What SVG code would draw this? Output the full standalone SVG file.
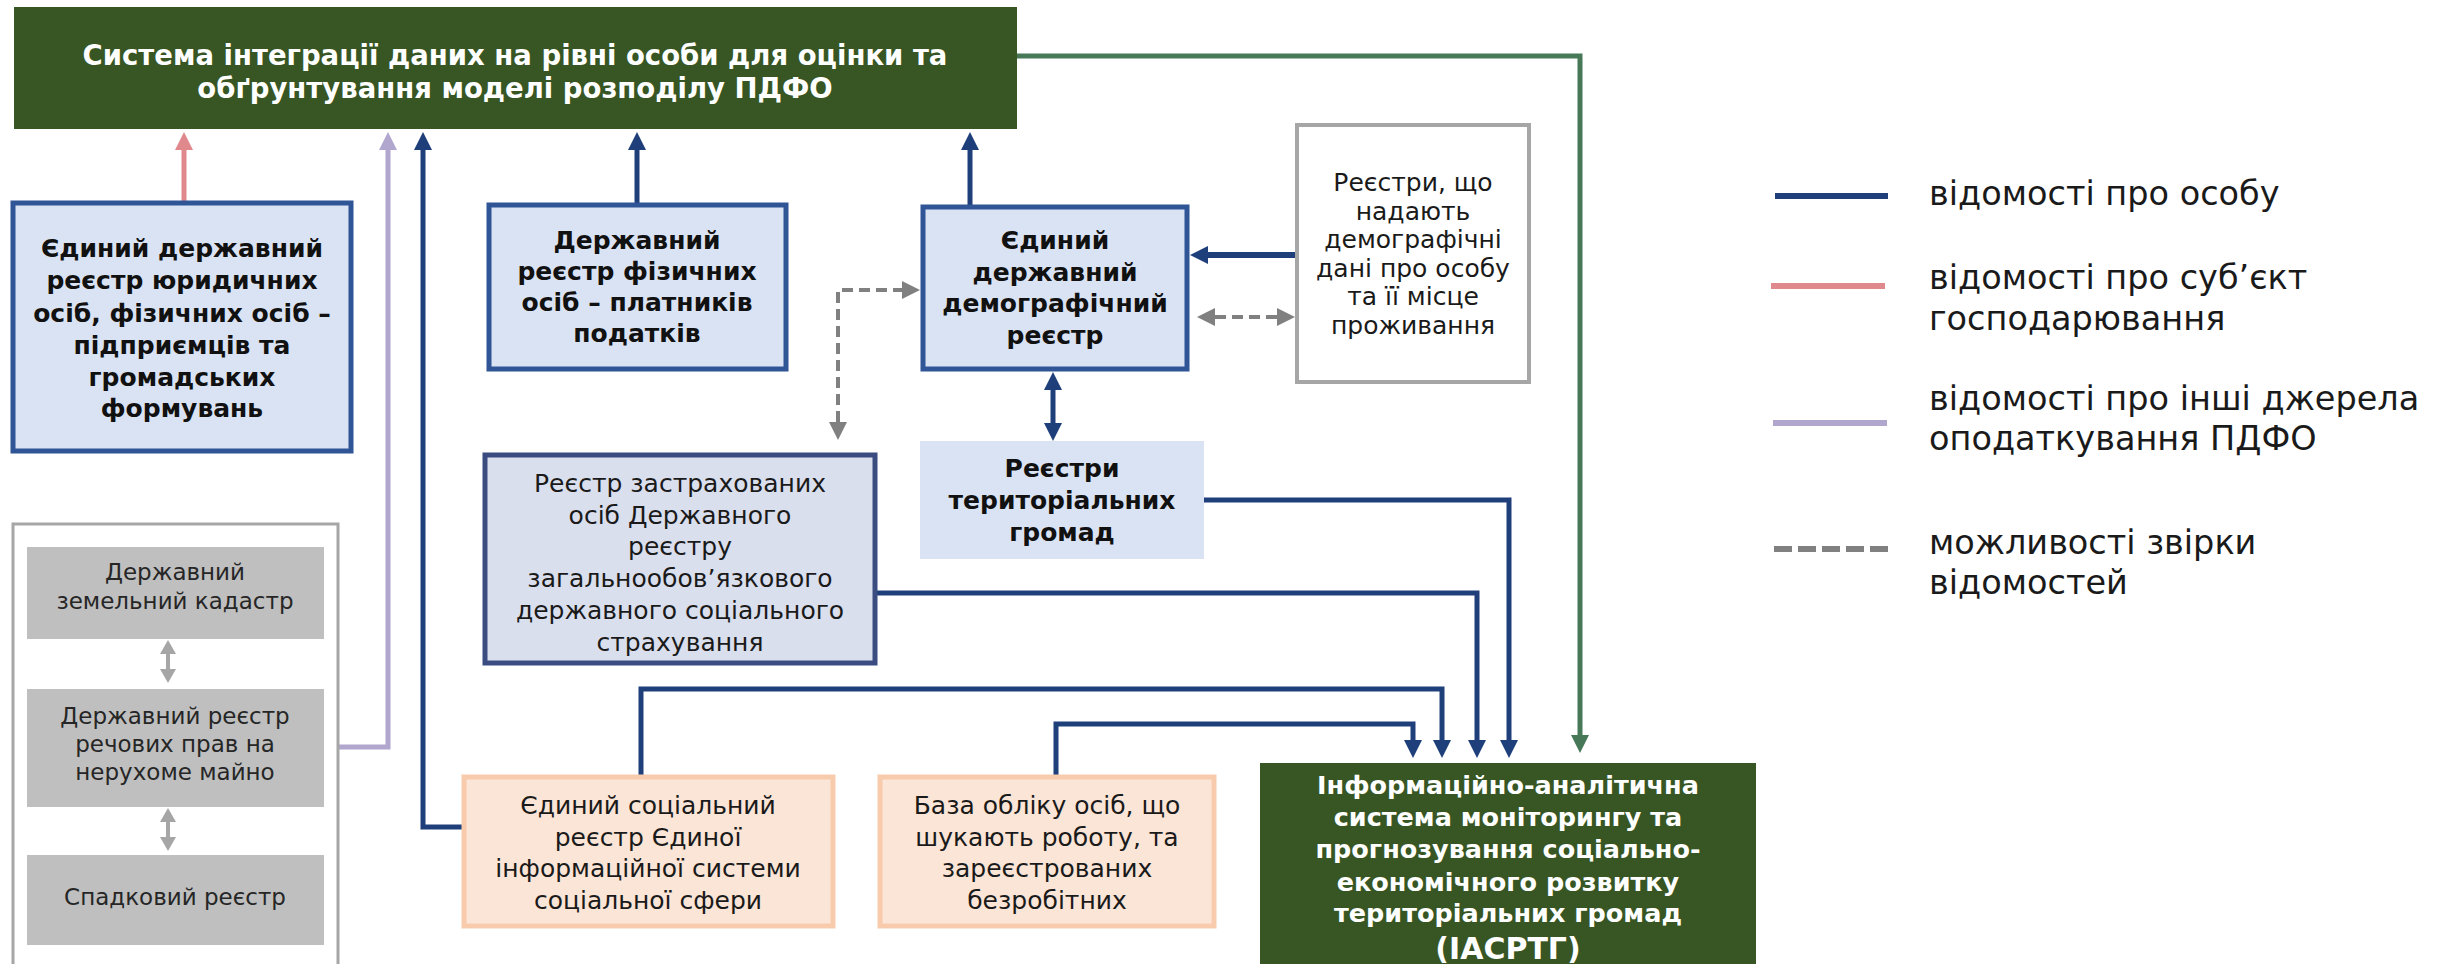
<svg xmlns="http://www.w3.org/2000/svg" width="2447" height="964" viewBox="0 0 2447 964">
<style>
text{font-family:"DejaVu Sans","Noto Sans",sans-serif;text-anchor:middle;dominant-baseline:central}
.b{font-weight:bold;fill:#111;font-size:25px}
.w{font-weight:bold;fill:#fff}
.r{fill:#1a1a1a;font-size:25px}
.g{fill:#262626;font-size:23px}
.lg{fill:#1a1a1a;font-size:33.5px;text-anchor:start}
.blue{fill:#DAE3F3;stroke:#2F5597;stroke-width:5}
.or{fill:#FBE5D6;stroke:#F8CBAD;stroke-width:5}
.c{fill:none;stroke-width:5}
.cb{stroke:#1F3F7A}
.cp{stroke:#E0898D}
.cl{stroke:#B1A6CE}
.cg{stroke:#477858}
.cd{stroke:#808080;stroke-width:4;stroke-dasharray:11 6}
</style>
<defs>
<marker id="mb" markerUnits="userSpaceOnUse" markerWidth="18" markerHeight="18" refX="0" refY="9" orient="auto-start-reverse" viewBox="0 0 18 18"><path d="M0,0L18,9L0,18z" fill="#1F3F7A"/></marker>
<marker id="mp" markerUnits="userSpaceOnUse" markerWidth="18" markerHeight="18" refX="0" refY="9" orient="auto" viewBox="0 0 18 18"><path d="M0,0L18,9L0,18z" fill="#E0898D"/></marker>
<marker id="ml" markerUnits="userSpaceOnUse" markerWidth="18" markerHeight="18" refX="0" refY="9" orient="auto" viewBox="0 0 18 18"><path d="M0,0L18,9L0,18z" fill="#B1A6CE"/></marker>
<marker id="mg" markerUnits="userSpaceOnUse" markerWidth="18" markerHeight="18" refX="0" refY="9" orient="auto" viewBox="0 0 18 18"><path d="M0,0L18,9L0,18z" fill="#477858"/></marker>
<marker id="md" markerUnits="userSpaceOnUse" markerWidth="18" markerHeight="18" refX="0" refY="9" orient="auto-start-reverse" viewBox="0 0 18 18"><path d="M0,0L18,9L0,18z" fill="#808080"/></marker>
<marker id="ms" markerUnits="userSpaceOnUse" markerWidth="14" markerHeight="16" refX="0" refY="8" orient="auto-start-reverse" viewBox="0 0 14 16"><path d="M0,0L14,8L0,16z" fill="#A6A6A6"/></marker>
</defs>

<g id="connectors">
<path class="c cp" d="M184,201V150" marker-end="url(#mp)"/>
<path class="c cl" d="M338,747H388V150" marker-end="url(#ml)"/>
<path class="c cb" d="M463,827H423V150" marker-end="url(#mb)"/>
<path class="c cb" d="M637,203V150" marker-end="url(#mb)"/>
<path class="c cb" d="M970,205V150" marker-end="url(#mb)"/>
<path class="c cb" style="stroke-width:6" d="M1295,255H1208" marker-end="url(#mb)"/>
<path class="c cd" d="M1215,317H1277" marker-start="url(#md)" marker-end="url(#md)"/>
<path class="c cd" d="M838,422V290H902" marker-start="url(#md)" marker-end="url(#md)"/>
<path class="c cb" d="M1053,390V423" marker-start="url(#mb)" marker-end="url(#mb)"/>
<path class="c cg" d="M1017,56H1580V735" marker-end="url(#mg)"/>
<path class="c cb" d="M1204,500H1509V740" marker-end="url(#mb)"/>
<path class="c cb" d="M877,593H1477V740" marker-end="url(#mb)"/>
<path class="c cb" d="M641,775V689H1442V740" marker-end="url(#mb)"/>
<path class="c cb" d="M1056,775V724H1413V740" marker-end="url(#mb)"/>
<path fill="none" stroke="#A6A6A6" stroke-width="4" d="M168,654V669" marker-start="url(#ms)" marker-end="url(#ms)"/>
<path fill="none" stroke="#A6A6A6" stroke-width="4" d="M168,822V837" marker-start="url(#ms)" marker-end="url(#ms)"/>
</g>

<g id="top">
<rect x="14" y="7" width="1003" height="122" fill="#375623"/>
<text class="w" x="515" y="55" font-size="27.5">Система інтеграції даних на рівні особи для оцінки та</text>
<text class="w" x="515" y="88" font-size="27.5">обґрунтування моделі розподілу ПДФО</text>
</g>

<g id="edr">
<rect class="blue" x="13" y="203" width="338" height="248"/>
<text class="b" x="182" y="248">Єдиний державний</text>
<text class="b" x="182" y="280">реєстр юридичних</text>
<text class="b" x="182" y="313">осіб, фізичних осіб –</text>
<text class="b" x="182" y="345">підприємців та</text>
<text class="b" x="182" y="377">громадських</text>
<text class="b" x="182" y="408">формувань</text>
</g>

<g id="drfo">
<rect class="blue" x="489" y="205" width="297" height="164"/>
<text class="b" x="637" y="240">Державний</text>
<text class="b" x="637" y="271">реєстр фізичних</text>
<text class="b" x="637" y="302">осіб – платників</text>
<text class="b" x="637" y="333">податків</text>
</g>

<g id="eddr">
<rect class="blue" x="923" y="207" width="264" height="162"/>
<text class="b" x="1055" y="240" font-size="25.5">Єдиний</text>
<text class="b" x="1055" y="272" font-size="25.5">державний</text>
<text class="b" x="1055" y="303" font-size="25.5">демографічний</text>
<text class="b" x="1055" y="335" font-size="25.5">реєстр</text>
</g>

<g id="demo-registers">
<rect x="1297" y="125" width="232" height="257" fill="#fff" stroke="#A6A6A6" stroke-width="4"/>
<text class="r" x="1413" y="182" font-size="24">Реєстри, що</text>
<text class="r" x="1413" y="211" font-size="24">надають</text>
<text class="r" x="1413" y="239" font-size="24">демографічні</text>
<text class="r" x="1413" y="268" font-size="24">дані про особу</text>
<text class="r" x="1413" y="296" font-size="24">та її місце</text>
<text class="r" x="1413" y="325" font-size="24">проживання</text>
</g>

<g id="territorial">
<rect x="920" y="441" width="284" height="118" fill="#DAE3F3"/>
<text class="b" x="1062" y="468">Реєстри</text>
<text class="b" x="1062" y="500">територіальних</text>
<text class="b" x="1062" y="532">громад</text>
</g>

<g id="insured">
<rect x="485" y="455" width="390" height="208" fill="#DADFEE" stroke="#3B4D80" stroke-width="5"/>
<text class="r" x="680" y="483">Реєстр застрахованих</text>
<text class="r" x="680" y="515">осіб Державного</text>
<text class="r" x="680" y="546">реєстру</text>
<text class="r" x="680" y="578">загальнообов’язкового</text>
<text class="r" x="680" y="610">державного соціального</text>
<text class="r" x="680" y="642">страхування</text>
</g>

<g id="other-sources">
<rect x="13" y="524" width="325" height="460" fill="none" stroke="#A6A6A6" stroke-width="3"/>
</g>
<g id="land-cadastre">
<rect x="27" y="547" width="297" height="92" fill="#BFBFBF"/>
<text class="g" x="175" y="572">Державний</text>
<text class="g" x="175" y="601">земельний кадастр</text>
</g>
<g id="property-rights">
<rect x="27" y="689" width="297" height="118" fill="#BFBFBF"/>
<text class="g" x="175" y="716">Державний реєстр</text>
<text class="g" x="175" y="744">речових прав на</text>
<text class="g" x="175" y="772">нерухоме майно</text>
</g>
<g id="inheritance">
<rect x="27" y="855" width="297" height="90" fill="#BFBFBF"/>
<text class="g" x="175" y="897">Спадковий реєстр</text>
</g>

<g id="social-registry">
<rect class="or" x="464" y="777" width="369" height="149"/>
<text class="r" x="648" y="805" font-size="25.5">Єдиний соціальний</text>
<text class="r" x="648" y="837" font-size="25.5">реєстр Єдиної</text>
<text class="r" x="648" y="868" font-size="25.5">інформаційної системи</text>
<text class="r" x="648" y="900" font-size="25.5">соціальної сфери</text>
</g>

<g id="jobseekers">
<rect class="or" x="880" y="777" width="334" height="149"/>
<text class="r" x="1047" y="805" font-size="25.5">База обліку осіб, що</text>
<text class="r" x="1047" y="837" font-size="25.5">шукають роботу, та</text>
<text class="r" x="1047" y="868" font-size="25.5">зареєстрованих</text>
<text class="r" x="1047" y="900" font-size="25.5">безробітних</text>
</g>

<g id="iasrtg">
<rect x="1260" y="763" width="496" height="210" fill="#375623"/>
<text class="w" x="1508" y="785" font-size="25.5">Інформаційно-аналітична</text>
<text class="w" x="1508" y="817" font-size="25.5">система моніторингу та</text>
<text class="w" x="1508" y="849" font-size="25.5">прогнозування соціально-</text>
<text class="w" x="1508" y="882" font-size="25.5">економічного розвитку</text>
<text class="w" x="1508" y="913" font-size="25.5">територіальних громад</text>
<text class="w" x="1508" y="948" font-size="30">(ІАСРТГ)</text>
</g>

<g id="legend">
<path fill="none" stroke="#1F3F7A" stroke-width="6" d="M1775,196H1888"/>
<text class="lg" x="1929" y="193">відомості про особу</text>
<path fill="none" stroke="#E0898D" stroke-width="6" d="M1771,286H1885"/>
<text class="lg" x="1929" y="277">відомості про суб’єкт</text>
<text class="lg" x="1929" y="318">господарювання</text>
<path fill="none" stroke="#B1A6CE" stroke-width="6" d="M1773,423H1887"/>
<text class="lg" x="1929" y="398">відомості про інші джерела</text>
<text class="lg" x="1929" y="438">оподаткування ПДФО</text>
<path fill="none" stroke="#808080" stroke-width="6" stroke-dasharray="18 6" d="M1774,549H1888"/>
<text class="lg" x="1929" y="542">можливості звірки</text>
<text class="lg" x="1929" y="582">відомостей</text>
</g>
</svg>
